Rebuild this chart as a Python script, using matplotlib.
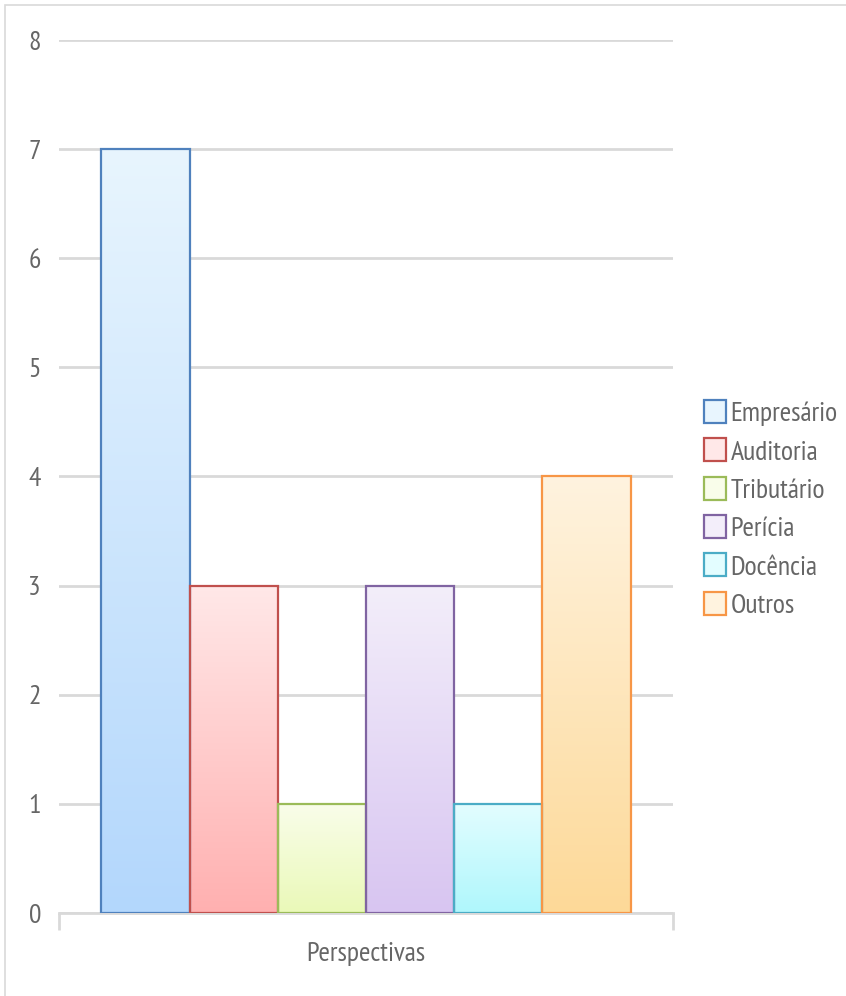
import matplotlib.pyplot as plt
import numpy as np
from matplotlib.colors import LinearSegmentedColormap
from matplotlib.patches import Rectangle, Patch

plt.rcParams['font.family'] = ['PT Sans Narrow', 'DejaVu Sans']

series = ['Empresário', 'Auditoria', 'Tributário', 'Perícia', 'Docência', 'Outros']
values = [7, 3, 1, 3, 1, 4]
category = 'Perspectivas'

edge_colors = ['#4F81BD', '#C0504D', '#9BBB59', '#8064A2', '#4BACC6', '#F79646']
top_colors = ['#E8F5FE', '#FFE8E8', '#F9FDEA', '#F3EEFA', '#E3FDFF', '#FFF3DF']
bottom_colors = ['#B3D7FC', '#FFB0B0', '#EAF9B8', '#D8C5F1', '#AFF7FC', '#FDD998']
text_color = '#666666'

fig = plt.figure(figsize=(8.46, 9.96), dpi=100)
ax = fig.add_axes([59 / 846, 1 - 913 / 996, 614 / 846, 873 / 996])

x = np.arange(len(series))
bars = ax.bar(x, values, width=1.0, color='none', edgecolor=edge_colors, linewidth=1.6, zorder=3)

# vertical gradient inside each bar, light at the top
grad = np.linspace(0, 1, 256).reshape(-1, 1)
for b, c0, c1 in zip(bars, bottom_colors, top_colors):
    cmap = LinearSegmentedColormap.from_list('g', [c0, c1])
    im = ax.imshow(grad, cmap=cmap, origin='lower', aspect='auto',
                   extent=[b.get_x(), b.get_x() + b.get_width(), 0, b.get_height()], zorder=2)
    im.set_clip_path(b)

ax.set_xlim(-0.98, len(series) - 1 + 0.98)
ax.set_ylim(0, 8)
ax.set_yticks(range(0, 9))
ax.yaxis.grid(True, color='#D9D9D9', linewidth=2, zorder=0)
ax.set_axisbelow(True)
for s in ['top', 'right', 'left']:
    ax.spines[s].set_visible(False)
ax.spines['bottom'].set_color('#D9D9D9')
ax.spines['bottom'].set_linewidth(2)
ax.spines['bottom'].set_zorder(1)
ax.tick_params(axis='y', length=0, labelsize=20, labelcolor=text_color, pad=13)
ax.set_xticks([ax.get_xlim()[0], ax.get_xlim()[1]])
ax.set_xticklabels(['', ''])
ax.tick_params(axis='x', length=12, width=2, color='#D9D9D9', direction='out')
ax.text(0.5, -0.033, category, transform=ax.transAxes, ha='center', va='top',
        fontsize=20, color=text_color)

handles = [Patch(facecolor=t, edgecolor=e, linewidth=1.6) for t, e in zip(top_colors, edge_colors)]
fig.legend(handles, series, loc='upper left', bbox_to_anchor=(693 / 846, 1 - 389 / 996),
           frameon=False, fontsize=20, labelcolor=text_color, handlelength=0.8, handleheight=0.9,
           handletextpad=0.15, labelspacing=0.44, borderaxespad=0)

fig.add_artist(Rectangle((5 / 846, -0.1), 1.2, 1.1 - 5 / 996, transform=fig.transFigure,
                         fill=False, edgecolor='#D9D9D9', linewidth=1.2))

fig.savefig('out.png', dpi=100)
